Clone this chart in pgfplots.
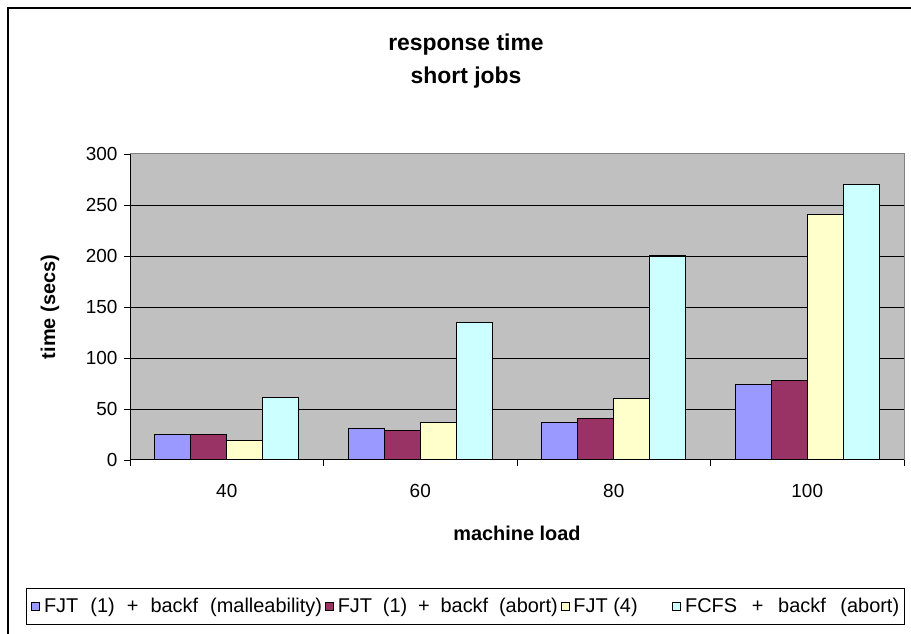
\documentclass[border=0pt]{standalone}
\usepackage{pgfplots}
\pgfplotsset{compat=1.18}
\usepackage{fontspec}
\setmainfont{Liberation Sans}
\definecolor{cblue}{HTML}{9999FF}
\definecolor{cmaroon}{HTML}{993366}
\definecolor{cyellow}{HTML}{FFFFCC}
\definecolor{ccyan}{HTML}{CCFFFF}
\definecolor{plotbg}{HTML}{C0C0C0}
\begin{document}
\begin{tikzpicture}[x=1bp,y=1bp]
\useasboundingbox (0,0) rectangle (911,634);
\draw[line width=1.5bp] (8,-10) -- (8,626) -- (930,626);
\node[align=center, font=\fontsize{23}{33}\selectfont\bfseries] at (466,573) {response time\\short jobs};
\begin{axis}[
  at={(130bp,174bp)}, anchor=south west,
  scale only axis, width=774bp, height=306bp,
  ybar=0pt, bar width=36bp,
  xmin=-0.5, xmax=3.5, ymin=0, ymax=300,
  xtick={0,1,2,3}, xticklabels={40,60,80,100},
  major x tick style={draw=none},
  minor xtick={-0.5,0.5,1.5,2.5,3.5},
  minor x tick style={black, line width=0.8bp},
  minor tick length=6bp,
  ytick={50,100,150,200,250},
  extra y ticks={0,300},
  extra y tick style={grid=none},
  ymajorgrids,
  grid style={black, line width=0.9bp},
  major tick length=6bp,
  y tick style={black, line width=0.8bp},
  tick align=outside, tick pos=left,
  axis line style={draw=gray, line width=1bp},
  axis background/.style={fill=plotbg},
  /pgf/number format/assume math mode=true,
  tick label style={font=\fontsize{19}{22}\selectfont},
  xticklabel style={yshift=-15bp},
  yticklabel style={xshift=-3bp},
  xlabel={machine load},
  ylabel={time (secs)},
  xlabel style={at={(axis description cs:0.5,-0.2386)}, anchor=center, font=\fontsize{20}{24}\selectfont\bfseries},
  ylabel style={at={(axis description cs:-0.1034,0.5)}, anchor=center, font=\fontsize{20}{24}\selectfont\bfseries},
  legend columns=4,
  legend style={at={(-0.1344,-0.4788)}, anchor=west, draw=black, line width=0.8bp,
    font=\fontsize{20}{23}\selectfont, inner xsep=5bp, inner ysep=8bp,
    nodes={inner xsep=0pt, inner ysep=2bp},
    /tikz/every even column/.append style={column sep=3bp},
    /tikz/every odd column/.append style={column sep=4bp}},
  legend cell align=left,
  leg/.style={legend image code/.code={\draw[##1,draw=black,line width=0.7bp] (0bp,-4bp) rectangle (8bp,4bp);}},
  every axis plot/.append style={draw=black, line width=1.2bp},
]
\addplot[fill=cblue, leg] coordinates {(0,25) (1,31) (2,37) (3,74)};
\addplot[fill=cmaroon, leg] coordinates {(0,25) (1,29) (2,40.5) (3,78)};
\addplot[fill=cyellow, leg] coordinates {(0,19) (1,37) (2,60.5) (3,240.5)};
\addplot[fill=ccyan, leg] coordinates {(0,61) (1,135) (2,200) (3,270)};
\legend{\makebox[278bp][s]{FJT (1) + backf (malleability)},
        \makebox[220bp][s]{FJT (1) + backf (abort)},
        \makebox[96bp][l]{FJT (4)},
        \makebox[214bp][s]{FCFS + backf (abort)}}
\draw[black, line width=1.2bp] (rel axis cs:0,1) -- (rel axis cs:0,0) -- (rel axis cs:1,0);
\end{axis}
\end{tikzpicture}
\end{document}
